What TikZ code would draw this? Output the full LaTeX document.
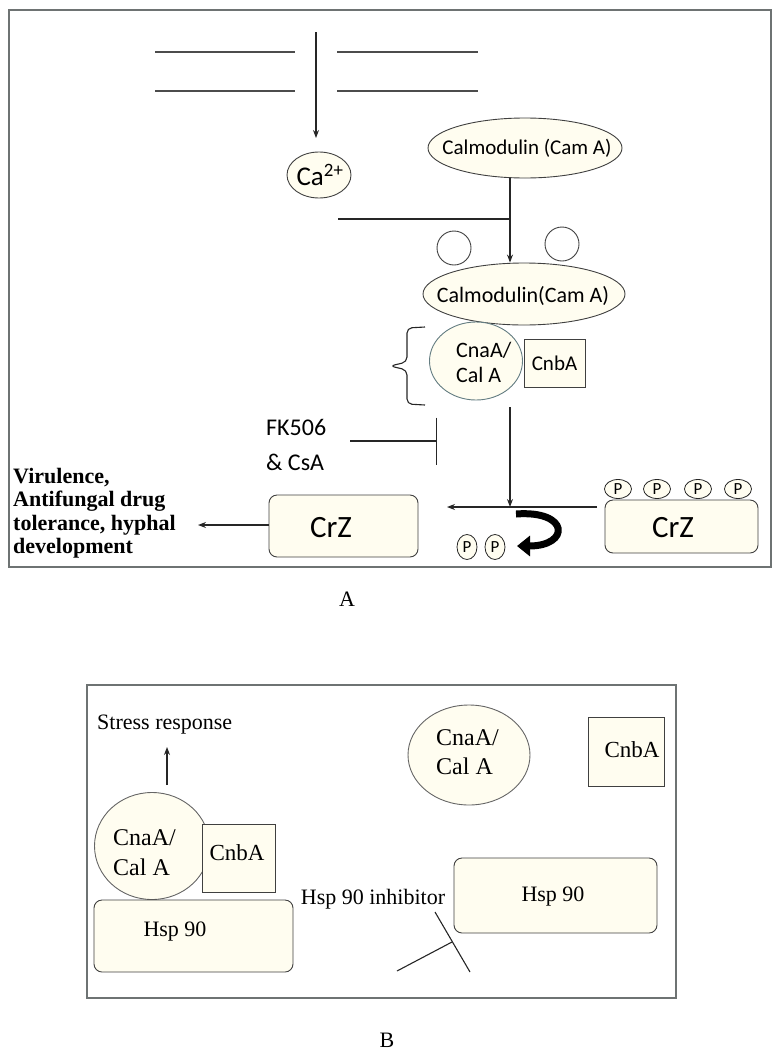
\documentclass[tikz,border=0pt]{standalone}
\usepackage{fontspec}
\setmainfont{Liberation Serif}
\newfontfamily\calibri{Carlito}
\usetikzlibrary{arrows.meta,shapes.geometric}
\definecolor{cream}{RGB}{255,253,240}
\definecolor{framegray}{RGB}{110,115,115}
\definecolor{tealgray}{RGB}{100,125,130}
\tikzset{
  frame/.style={draw=framegray,line width=1.4bp},
  memb/.style={draw=black!70,line width=2bp},
  ln/.style={draw=black!85,line width=1.1bp},
  arr/.style={ln,-{Stealth[length=8bp,width=6bp]}},
  ellnode/.style={ellipse,draw=black!75,fill=cream,line width=0.9bp,inner sep=0pt},
  boxnode/.style={rectangle,draw=black!75,fill=cream,line width=0.9bp,inner sep=0pt},
  rboxnode/.style={rectangle,rounded corners=8bp,draw=black!75,fill=cream,line width=0.9bp,inner sep=0pt},
  sans/.style={font=\calibri\fontsize{#1}{#1*1.2}\selectfont,inner sep=0pt},
  serif/.style={font=\fontsize{#1}{#1*1.2}\selectfont,inner sep=0pt},
  pnode/.style={ellipse,draw=black!85,fill=cream,line width=0.8bp,inner sep=0pt,font=\calibri\fontsize{17bp}{18bp}\selectfont},
}
\begin{document}
\begin{tikzpicture}[x=1bp,y=-1bp]
\useasboundingbox (0,0) rectangle (773,1059);
% ---------- Panel A ----------
\draw[frame] (9,10) rectangle (771,567);
% membrane
\coordinate (m1a) at (155,52); \coordinate (m1b) at (295,52);
\coordinate (m2a) at (155,91); \coordinate (m2b) at (295,91);
\coordinate (m3a) at (337,52); \coordinate (m3b) at (478,52);
\coordinate (m4a) at (337,91); \coordinate (m4b) at (478,91);
\draw[memb] (m1a) -- (m1b); \draw[memb] (m2a) -- (m2b);
\draw[memb] (m3a) -- (m3b); \draw[memb] (m4a) -- (m4b);
% Ca2+
\node[ellnode,minimum width=64bp,minimum height=46bp] (ca) at (319,175) {};
\node[sans=27bp] (catext) at (320,175) {Ca\textsuperscript{2+}};
\coordinate (chan) at (316,32);
\coordinate (chanend) at (316,138);
\draw[arr] (chan) -- (chanend);
% Calmodulin top
\node[ellnode,minimum width=194bp,minimum height=60bp] (cam1) at (525,148) {};
\node[sans=21bp] (cam1t) at (527,148) {Calmodulin (Cam A)};
% small circles + calmodulin bottom
\node[circle,draw=black!75,fill=white,line width=0.9bp,minimum size=34bp,inner sep=0pt] (c1) at (454,248) {};
\node[circle,draw=black!75,fill=white,line width=0.9bp,minimum size=34bp,inner sep=0pt] (c2) at (562,244) {};
\node[ellnode,minimum width=202bp,minimum height=62bp] (cam2) at (524,294) {};
\node[sans=22bp] (cam2t) at (523,296) {Calmodulin(Cam A)};
% junction
\coordinate (j1) at (510,219);
\coordinate (cajoin) at (338,219);
\draw[ln] (j1 |- cam1.south) -- (j1);
\draw[ln] (cajoin) -- (j1);
\draw[arr] (j1) -- (j1 |- cam2.north);
% CnaA / CnbA
\node[ellnode,draw=tealgray,minimum width=93bp,minimum height=78bp] (cna) at (476,361) {};
\node[align=left,anchor=west,inner sep=0pt,font=\calibri\fontsize{22bp}{25bp}\selectfont] (cnat) at (456,362) {CnaA/\\Cal A};
\node[boxnode,minimum width=61bp,minimum height=48bp] (cnb) at (554.5,363) {};
\node[sans=21bp] (cnbt) at (cnb) {CnbA};
% brace
\coordinate (br1) at (425,327); \coordinate (br2) at (425,405); \coordinate (brtip) at (390,366);
\draw[ln,rounded corners=5bp] (br1) -- (407,328) -- (407,362) -- (brtip) -- (407,370) -- (407,404) -- (br2);
% FK506
\node[align=left,anchor=west,inner sep=0pt,font=\calibri\fontsize{24bp}{35bp}\selectfont] (fk) at (266,445) {FK506\\\& CsA};
\coordinate (inhA) at (350,441); \coordinate (inhB) at (437,441);
\draw[ln,-{Bar[width=47bp,line width=1.1bp]}] (inhA) -- (inhB);
% vertical to junction
\coordinate (v1) at (510,407); \coordinate (j2) at (510,507);
\draw[arr] (v1) -- (j2);
% CrZ boxes
\node[rboxnode,minimum width=153bp,minimum height=53bp] (crz2) at (681.5,526.5) {};
\node[sans=31bp] (crz2t) at (673,528) {CrZ};
\node[rboxnode,minimum width=149bp,minimum height=62bp] (crz1) at (343.5,526) {};
\node[sans=31bp] (crz1t) at (331,528) {CrZ};
% P circles
\node[pnode,minimum width=27bp,minimum height=19bp] (p1) at (618,489) {P};
\node[pnode,minimum width=27bp,minimum height=19bp] (p2) at (657,489) {P};
\node[pnode,minimum width=27bp,minimum height=19bp] (p3) at (698,489) {P};
\node[pnode,minimum width=27bp,minimum height=19bp] (p4) at (738,489) {P};
\node[pnode,minimum width=20bp,minimum height=25bp] (p5) at (467,547) {P};
\node[pnode,minimum width=20bp,minimum height=25bp] (p6) at (495,547) {P};
% horizontal arrow
\coordinate (hstart) at (597,507); \coordinate (hend) at (447,507);
\draw[arr] (hstart) -- (hend);
% curved thick arrow
\coordinate (cvs) at (516,514); \coordinate (cve) at (517,546);
\draw[line width=7bp,-{Triangle[length=13bp,width=20bp]}] (cvs) .. controls (570,510) and (570,546) .. (cve);
% output arrow & text
\node[align=left,anchor=west,inner sep=0pt,font=\bfseries\fontsize{22bp}{23.5bp}\selectfont] (out) at (13,513) {Virulence,\\Antifungal drug\\tolerance, hyphal\\development};
\coordinate (outend) at (198,525);
\draw[arr] (crz1.west |- outend) -- (outend);
\node[serif=22bp] (labA) at (347,599) {A};
% ---------- Panel B ----------
\draw[frame] (87,685) rectangle (676,998);
\node[serif=22bp,anchor=west] (stress) at (97,725) {Stress response};
\node[ellnode,draw=black!60,minimum width=115bp,minimum height=107bp] (cnaB1) at (152,846) {};
\node[align=left,anchor=west,inner sep=0pt,font=\fontsize{24bp}{30bp}\selectfont] (cnaB1t) at (113,853) {CnaA/\\Cal A};
\coordinate (sr) at (167,747);
\draw[arr] (167,785) -- (sr);
\node[boxnode,minimum width=73bp,minimum height=68bp] (cnbB1) at (238.5,858) {};
\node[serif=23bp] (cnbB1t) at (237,853) {CnbA};
\node[rboxnode,minimum width=199bp,minimum height=72bp] (hspL) at (193.5,936) {};
\node[serif=22bp] (hspLt) at (175,932) {Hsp 90};
\node[serif=22bp] (inh) at (373,899) {Hsp 90 inhibitor};
\coordinate (tstem) at (397,971); \coordinate (tmid) at (452,942);
\coordinate (tbar1) at (435,912); \coordinate (tbar2) at (470,972);
\draw[ln] (tstem) -- (tmid);
\draw[ln] (tbar1) -- (tbar2);
\node[rboxnode,minimum width=203bp,minimum height=75bp] (hspR) at (555.5,895.5) {};
\node[serif=22bp] (hspRt) at (553,897) {Hsp 90};
\node[ellnode,draw=black!60,minimum width=122bp,minimum height=100bp] (cnaB2) at (469,755) {};
\node[align=left,anchor=west,inner sep=0pt,font=\fontsize{24bp}{29bp}\selectfont] (cnaB2t) at (436,752) {CnaA/\\Cal A};
\node[boxnode,minimum width=76bp,minimum height=69bp] (cnbB2) at (626,751.5) {};
\node[serif=23bp] (cnbB2t) at (632,750) {CnbA};
\node[serif=22bp] (labB) at (387,1040) {B};
\end{tikzpicture}
\end{document}
